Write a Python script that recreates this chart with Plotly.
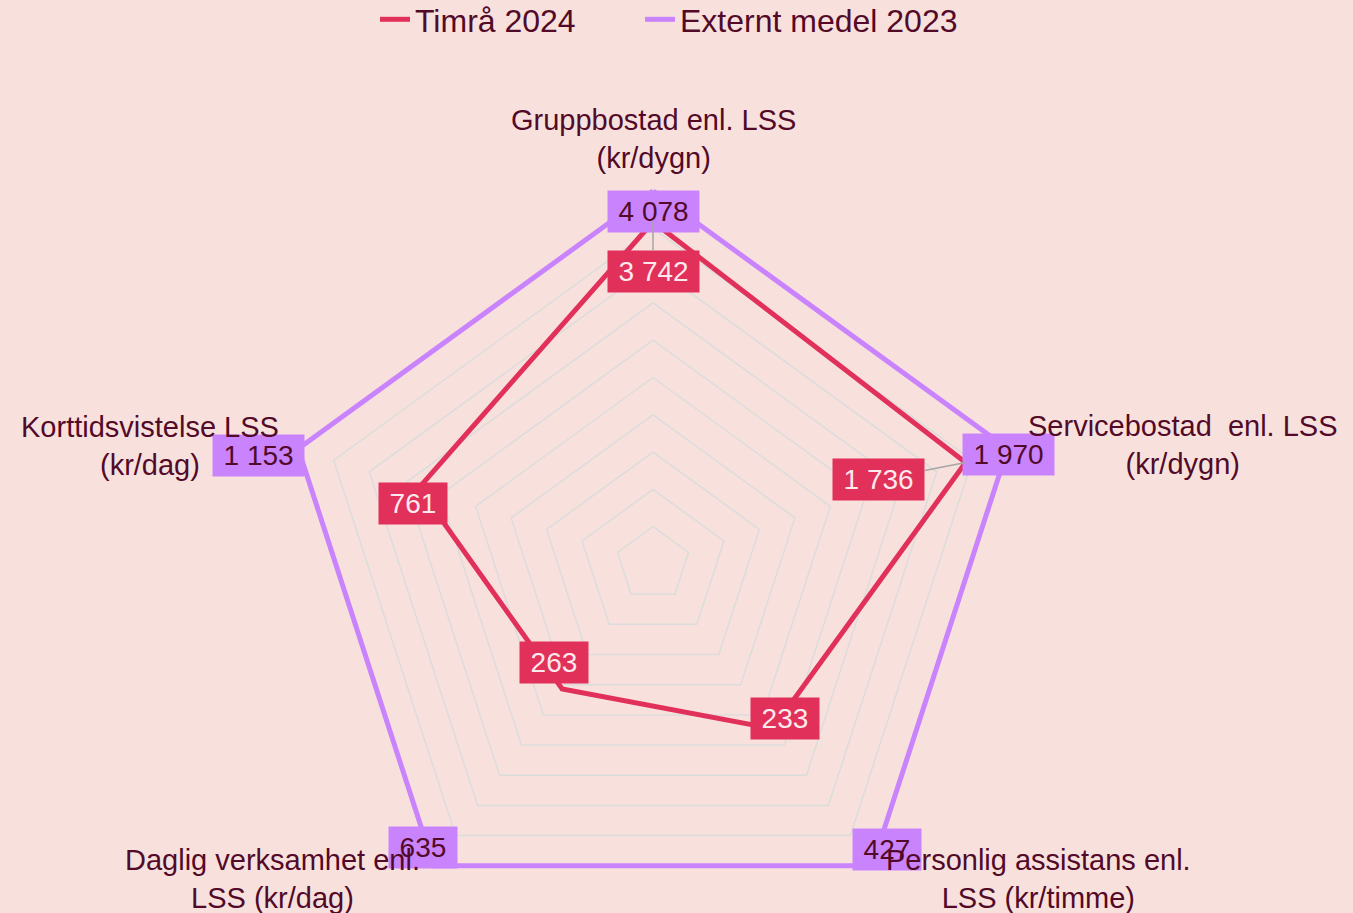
import math
import plotly.graph_objects as go

# ---------------- data ----------------
categories = [
    "Gruppbostad enl. LSS<br>(kr/dygn)",
    "Servicebostad  enl. LSS<br>(kr/dygn)",
    "Personlig assistans enl.<br>LSS (kr/timme)",
    "Daglig verksamhet enl.<br>LSS (kr/dag)",
    "Korttidsvistelse LSS<br>(kr/dag)",
]
timra_2024 = [3742, 1736, 233, 263, 761]
externt_2023 = [4078, 1970, 427, 635, 1153]
grid_levels = [0.1, 0.2, 0.3, 0.4, 0.5, 0.6, 0.7, 0.8, 0.9, 1.0]
series_names = ["Timrå 2024", "Externt medel 2023"]

# ---------------- styles ----------------
BG = "#f8e1dd"
RED = "#e1305a"
PURPLE = "#c983fd"
DARK = "#520a28"
LIGHT_TXT = "#fde9ec"
GRID = "#dcdcdc"
FONT = "Liberation Sans, Arial, sans-serif"

W, H = 1353, 913
CX, CY, R_PX = 653, 564, 373  # radar centre / radius in pixels
LEGEND_X_PX = [375, 640]      # left edge of each legend entry
LEGEND_Y_SHIFT = 8

# label offsets (pixels: dx right, dy down) for value boxes
timra_off = [(0, 50), (-87, 17), (12, -10), (-8, -26), (-6, 16)]
timra_leader = [True, True, False, False, False]
ext_off = [(0, 20), (1, 6), (15, -16), (-11, -18), (-40, 7)]
# category label placement: (xanchor, yanchor, xshift, yshift)
cat_place = [
    ("center", "bottom", 0, 15),
    ("left", "middle", 18, 4),
    ("left", "middle", 12, -13),
    ("right", "middle", -12, -13),
    ("right", "middle", -17, 3),
]

n = len(categories)
angles = [math.radians(90 - 360 / n * i) for i in range(n)]


def to_xy(vals):
    xs = [v * math.cos(a) for v, a in zip(vals, angles)]
    ys = [v * math.sin(a) for v, a in zip(vals, angles)]
    return xs + xs[:1], ys + ys[:1]


timra_norm = [t / e for t, e in zip(timra_2024, externt_2023)]
ext_norm = [e / e for e in externt_2023]

fig = go.Figure()

# grid pentagons
gx, gy = [], []
for lvl in grid_levels:
    xs, ys = to_xy([lvl] * n)
    gx += xs + [None]
    gy += ys + [None]
fig.add_trace(go.Scatter(x=gx, y=gy, mode="lines", line=dict(color=GRID, width=1.5),
                         hoverinfo="skip", showlegend=False))

tx, ty = to_xy(timra_norm)
fig.add_trace(go.Scatter(x=tx, y=ty, mode="lines", name=series_names[0], legend="legend",
                         line=dict(color=RED, width=5), hoverinfo="skip"))
ex, ey = to_xy(ext_norm)
fig.add_trace(go.Scatter(x=ex, y=ey, mode="lines", name=series_names[1], legend="legend2",
                         line=dict(color=PURPLE, width=5), hoverinfo="skip"))


def fmt(v):
    return "\u2009" + f"{v:,}".replace(",", " ") + "\u2009"


annotations = []
# value labels – external
for i, v in enumerate(externt_2023):
    dx, dy = ext_off[i]
    annotations.append(dict(x=ex[i], y=ey[i], xref="x", yref="y", text=fmt(v),
                            showarrow=False, xshift=dx, yshift=-dy,
                            bgcolor=PURPLE, borderpad=5,
                            font=dict(family=FONT, size=28, color=DARK)))
# value labels – Timrå
for i, v in enumerate(timra_2024):
    dx, dy = timra_off[i]
    if timra_leader[i]:
        annotations.append(dict(x=tx[i], y=ty[i], xref="x", yref="y", text=fmt(v),
                                showarrow=True, ax=dx, ay=dy, arrowhead=0,
                                arrowwidth=1.5, arrowcolor="#a5a5a5",
                                bgcolor=RED, borderpad=5,
                                font=dict(family=FONT, size=28, color=LIGHT_TXT)))
    else:
        annotations.append(dict(x=tx[i], y=ty[i], xref="x", yref="y", text=fmt(v),
                                showarrow=False, xshift=dx, yshift=-dy,
                                bgcolor=RED, borderpad=5,
                                font=dict(family=FONT, size=28, color=LIGHT_TXT)))
# category labels
for i, c in enumerate(categories):
    xa, ya, xs_, ys_ = cat_place[i]
    annotations.append(dict(x=ex[i], y=ey[i], xref="x", yref="y",
                            text=c.replace("  ", " \u00a0"), showarrow=False,
                            xanchor=xa, yanchor=ya, xshift=xs_, yshift=ys_, align="center",
                            font=dict(family=FONT, size=29, color=DARK)))

legend_common = dict(orientation="h", xanchor="left", y=1.0 + LEGEND_Y_SHIFT / H, yanchor="top",
                     font=dict(family=FONT, size=32, color=DARK), bgcolor="rgba(0,0,0,0)")

fig.update_layout(
    width=W, height=H,
    margin=dict(l=0, r=0, t=0, b=0, autoexpand=False),
    paper_bgcolor=BG, plot_bgcolor=BG,
    xaxis=dict(visible=False, range=[-CX / R_PX, (W - CX) / R_PX], fixedrange=True),
    yaxis=dict(visible=False, range=[-(H - CY) / R_PX, CY / R_PX], fixedrange=True),
    showlegend=True,
    legend=dict(x=LEGEND_X_PX[0] / W, **legend_common),
    legend2=dict(x=LEGEND_X_PX[1] / W, **legend_common),
    annotations=annotations,
)

fig.write_html("out.html", config={"displayModeBar": False},
               post_script="document.body.style.margin='0';")
